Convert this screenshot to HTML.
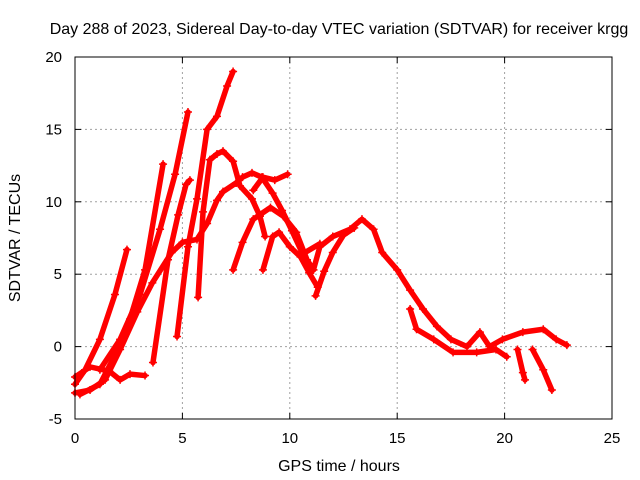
<!DOCTYPE html>
<html><head><meta charset="utf-8"><style>
body{margin:0;background:#fff;}
svg{display:block;font-family:"Liberation Sans",sans-serif;}
</style></head><body>
<svg id="chart" width="640" height="480" viewBox="0 0 640 480" xmlns="http://www.w3.org/2000/svg">
<rect width="640" height="480" fill="#fff"/>
<text x="339" y="34" font-size="16" text-anchor="middle">Day 288 of 2023, Sidereal Day-to-day VTEC variation (SDTVAR) for receiver krgg</text>
<g id="grid"></g>
<g id="series"></g>
<rect x="75" y="57" width="537" height="362" fill="none" stroke="#000" stroke-width="1"/>
<g id="ticks"></g>
<text x="339" y="471" font-size="16" text-anchor="middle">GPS time / hours</text>
<text x="0" y="0" font-size="16" text-anchor="middle" transform="translate(20,238) rotate(-90)">SDTVAR / TECUs</text>
</svg>
<script>
const xTicks=[0,5,10,15,20,25];
const yTicks=[-5,0,5,10,15,20];
const t1=[[0,-2.6],[0.47,-1.6],[1.16,0.5],[1.86,3.6],[2.42,6.7]];
const t2=[[0,-2.1],[0.7,-1.4],[1.6,-1.7],[2.1,-2.3],[2.56,-1.9],[3.26,-2.0]];
const t3=[[0.23,-3.3],[1.16,-2.6],[1.86,-0.6],[2.56,1.9],[3.26,5.3],[4.1,12.6]];
const t4=[[1.16,-1.6],[2.1,0.5],[3.03,3.6],[3.96,8.1],[4.66,11.9],[5.26,16.2]];
const t5=[[4.75,0.7],[5.26,6.9],[5.68,10.2],[6.15,15],[6.61,15.9],[7.08,18],[7.36,19]];
const t6=[[3.63,-1.1],[4.33,6],[4.8,9.1],[5.17,11.2],[5.35,11.5]];
const t7=[[5.73,3.4],[5.96,9.3],[6.28,12.9],[6.61,13.3],[6.89,13.5],[7.36,12.8],[7.68,11.1],[8.24,10.2],[8.61,9.0],[8.85,7.6]];
const t8=[[0,-3.2],[0.7,-3.0],[1.4,-2.3],[2.1,-0.2],[2.9,2.4],[3.6,4.4],[4.5,6.5],[5.0,7.2],[5.68,7.4],[6.15,8.5],[6.61,10.1],[6.89,10.7],[7.5,11.3],[7.8,11.7],[8.24,12.0],[8.7,11.7],[9.2,10.6],[9.64,9.4],[10.1,8.0],[10.6,6.4],[11.4,7.1]];
const t9=[[7.36,5.3],[7.8,7.2],[8.3,8.8],[9.1,9.6],[9.7,9],[10.3,7.9],[10.8,6],[11.1,5.3]];
const t10=[[8.75,5.3],[9.2,7.6],[9.5,7.9],[10,6.9],[10.5,6.2],[10.9,5.1],[11.3,4.1]];
const t11=[[8.3,10.8],[8.75,11.7],[9.3,11.5],[9.9,11.9]];
const t12=[[11.1,5.3],[11.4,6.9],[12,7.6],[12.8,8.1],[13.36,8.8],[13.9,8.1],[14.3,6.5],[15,5.3],[15.6,3.9],[16.2,2.6],[16.85,1.4],[17.5,0.5],[18.25,0],[18.85,1],[19.3,0],[19.9,0.5],[20.85,1],[21.8,1.2],[22.4,0.5],[22.9,0.1]];
const t13=[[15.6,2.6],[15.9,1.2],[16.7,0.5],[17.6,-0.4],[18.7,-0.4],[19.6,-0.2],[20.1,-0.7]];
const t14=[[20.6,-0.2],[20.85,-1.8],[20.95,-2.3]];
const t15=[[21.3,-0.2],[21.8,-1.6],[22.2,-3]];
const t16=[[11.2,3.5],[11.6,5.2],[12.0,6.5],[12.5,7.7],[13.0,8.2]];
const allSeries=[t1,t2,t3,t4,t5,t6,t7,t8,t9,t10,t11,t12,t13,t14,t15,t16];
const NS="http://www.w3.org/2000/svg";
const X0=75,X1=612,Y0=419,Y1=57;
function sx(v){return X0+(v-0)/(25-0)*(X1-X0);}
function sy(v){return Y0-(v+5)/(20+5)*(Y0-Y1);}
function mk(tag,attrs,parent){const e=document.createElementNS(NS,tag);for(const k in attrs)e.setAttribute(k,attrs[k]);parent.appendChild(e);return e;}
const grid=document.getElementById('grid'),ticks=document.getElementById('ticks'),ser=document.getElementById('series');
xTicks.forEach(v=>{
  const x=sx(v);
  if(v>0&&v<25){const g=mk('line',{x1:x,x2:x,y1:Y1,y2:Y0,stroke:'#a0a0a0','stroke-dasharray':'2,3'},grid);
  
  }
  mk('line',{x1:x,x2:x,y1:Y0,y2:Y0-6,stroke:'#000'},ticks);
  mk('line',{x1:x,x2:x,y1:Y1,y2:Y1+6,stroke:'#000'},ticks);
  const t=mk('text',{x:x,y:443,'font-size':15,'text-anchor':'middle'},ticks);t.textContent=v;
  
  
});
yTicks.forEach(v=>{
  const y=sy(v);
  if(v>-5&&v<20){const g=mk('line',{x1:X0,x2:X1,y1:y,y2:y,stroke:'#a0a0a0','stroke-dasharray':'2,3'},grid);
  
  }
  mk('line',{x1:X0,x2:X0+6,y1:y,y2:y,stroke:'#000'},ticks);
  mk('line',{x1:X1,x2:X1-6,y1:y,y2:y,stroke:'#000'},ticks);
  const t=mk('text',{x:62,y:y+5,'font-size':15,'text-anchor':'end'},ticks);t.textContent=v;
  
  
});
allSeries.forEach((s,i)=>{
  const p=mk('polyline',{points:s.map(d=>sx(d[0])+','+sy(d[1])).join(' '),fill:'none',stroke:'#ff0000','stroke-width':5.5,'stroke-linejoin':'round','stroke-linecap':'round'},ser);
  
  
  s.forEach(d=>{
    const x=sx(d[0]),y=sy(d[1]);
    const m=mk('path',{d:`M${x-4},${y}H${x+4}M${x},${y-4}V${y+4}`,stroke:'#ff0000','stroke-width':1.5},ser);
    
    
  });
});
</script>
</body></html>
